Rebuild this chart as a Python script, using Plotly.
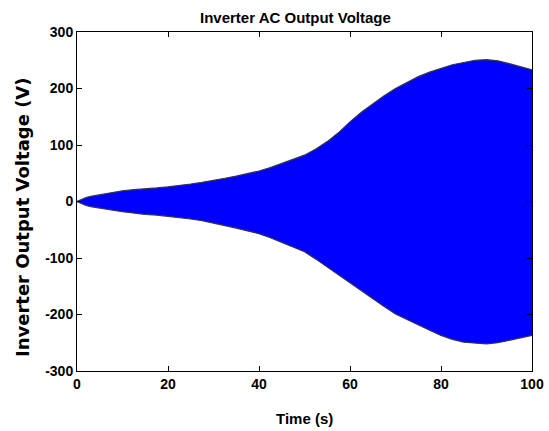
import plotly.graph_objects as go

# Envelope of the inverter AC output voltage
time_s = [0, 1, 2, 3, 5, 7.5, 10, 12.5, 15, 17.5, 20, 22.5, 25, 27.5, 30, 32.5, 35, 37.5, 40,
          42.5, 45, 47.5, 50, 52.5, 55, 57.5, 60, 62.5, 65, 67.5, 70, 72.5, 75, 77.5, 80,
          82.5, 85, 87.5, 90, 92.5, 95, 97.5, 100]
upper_v = [0, 4, 7, 9, 12, 16, 19, 21, 22, 24, 26, 28, 31, 34, 37, 41, 45, 49, 54,
           60, 67, 74, 82, 93, 106, 122, 141, 158, 173, 187, 200, 211, 221, 229, 236,
           242, 246, 250, 251, 249, 244, 238, 233]
lower_v = [0, -4, -7, -9, -12, -15, -18, -21, -23, -24, -26, -29, -31, -34, -38, -42, -47, -52, -57,
           -64, -72, -80, -89, -102, -116, -130, -145, -159, -172, -186, -199, -209, -219, -228, -237,
           -244, -249, -251, -252, -250, -246, -241, -237]

x_ticks = [0, 20, 40, 60, 80, 100]
y_ticks = [-300, -200, -100, 0, 100, 200, 300]
y_tick_labels = ["-300", "-200", "-100", "0", "100", "200", "300"]

narrow = "Liberation Sans Narrow, Arial Narrow, Liberation Sans, Arial, sans-serif"
wide = "DejaVu Sans, Verdana, sans-serif"

fig = go.Figure()
fig.add_trace(go.Scatter(x=time_s, y=lower_v, mode="lines",
                         line=dict(color="#33334d", width=1.2), showlegend=False))
fig.add_trace(go.Scatter(x=time_s, y=upper_v, mode="lines", fill="tonexty",
                         fillcolor="#0000FF",
                         line=dict(color="#33334d", width=1.2), showlegend=False))

axis_common = dict(showline=True, linecolor="black", linewidth=1, mirror="ticks",
                   ticks="inside", ticklen=5, tickcolor="black", showgrid=False,
                   zeroline=False, automargin=False,
                   tickfont=dict(family=narrow, size=14, color="black", weight="bold"))

fig.update_xaxes(range=[0, 100], tickvals=x_ticks, **axis_common)
fig.update_yaxes(range=[-300, 300], tickvals=y_ticks, ticktext=y_tick_labels, **axis_common)

fig.update_layout(
    width=549, height=431,
    margin=dict(l=77, r=17, t=32, b=60, autoexpand=False),
    paper_bgcolor="white", plot_bgcolor="white",
    annotations=[
        dict(text="<b>Inverter AC Output Voltage</b>", xref="paper", yref="paper",
             x=0.481, y=1.044, showarrow=False, xanchor="center", yanchor="middle",
             font=dict(family=narrow, size=15, color="black")),
        dict(text="<b>Time (s)</b>", xref="paper", yref="paper",
             x=0.499, y=-0.139, showarrow=False, xanchor="center", yanchor="middle",
             font=dict(family=narrow, size=15, color="black")),
        dict(text="<b>Inverter Output Voltage (V)</b>", xref="paper", yref="paper",
             x=-0.121, y=0.454, showarrow=False, xanchor="center", yanchor="middle",
             textangle=-90, font=dict(family=wide, size=18, color="black")),
    ],
)

fig.write_html("out.html", config={"displayModeBar": False},
               post_script="document.body.style.margin='0';")
